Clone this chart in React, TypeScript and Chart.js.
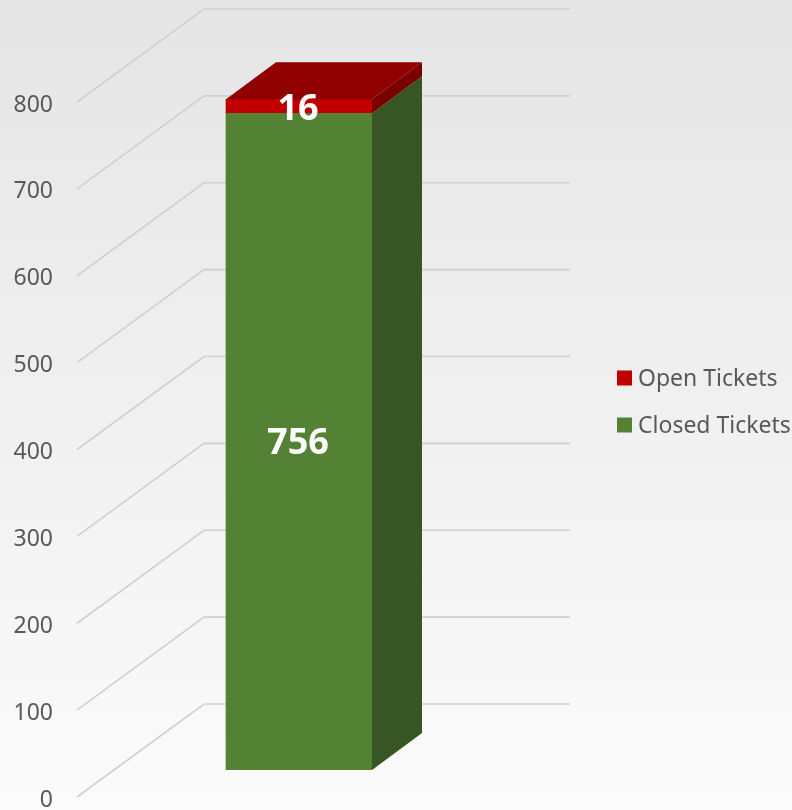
import React, { useEffect, useRef } from "react";
import { Chart, registerables } from "chart.js";

Chart.register(...registerables);

const categories = ["Tickets"];
const closedTickets = [756];
const openTickets = [16];
const seriesLabels = ["Closed Tickets", "Open Tickets"];
const frontColors = ["#548235", "#c00000"];
const sideColors = ["#375623", "#7a0000"];
const topColor = "#900000";
const yMin = 0;
const yMax = 800;
const yStep = 100;

const DX = 50;
const DY = -37;
const WALL_X0 = 204;
const WALL_X1 = 570;
const WALL_DY = -66;
const FRONT_X = 77;
const FRONT_DY = 27;
const FONT = "'Noto Sans', sans-serif";
const TEXT_COLOR = "#595959";
const GRID_COLOR = "#d0d0d0";

const threeD = {
  id: "threeD",
  beforeDraw(chart: any) {
    const { ctx, width, height } = chart;
    const g = ctx.createLinearGradient(0, 0, 0, height);
    g.addColorStop(0, "#e5e5e5");
    g.addColorStop(1, "#fbfbfb");
    ctx.save();
    ctx.fillStyle = g;
    ctx.fillRect(0, 0, width, height);
    ctx.restore();
  },
  beforeDatasetsDraw(chart: any) {
    const { ctx } = chart;
    const y = chart.scales.y;
    ctx.save();
    ctx.strokeStyle = GRID_COLOR;
    ctx.lineWidth = 1.6;
    ctx.font = `23px ${FONT}`;
    ctx.fillStyle = TEXT_COLOR;
    ctx.textAlign = "right";
    ctx.textBaseline = "middle";
    y.ticks.forEach((t: any) => {
      const py = y.getPixelForValue(t.value);
      ctx.beginPath();
      ctx.moveTo(FRONT_X, py + FRONT_DY);
      ctx.lineTo(WALL_X0, py + WALL_DY);
      ctx.lineTo(WALL_X1, py + WALL_DY);
      ctx.stroke();
      ctx.fillText(String(t.value), 53, py + FRONT_DY + 3);
    });
    ctx.restore();
  },
  afterDatasetsDraw(chart: any) {
    const { ctx } = chart;
    const n = chart.data.datasets.length;
    ctx.save();
    for (let i = 0; i < n; i++) {
      const meta = chart.getDatasetMeta(i);
      meta.data.forEach((el: any) => {
        const { x, y, base, width } = el.getProps(["x", "y", "base", "width"], true);
        const left = x - width / 2;
        const right = x + width / 2;
        ctx.fillStyle = sideColors[i];
        ctx.beginPath();
        ctx.moveTo(right, base);
        ctx.lineTo(right, y);
        ctx.lineTo(right + DX, y + DY);
        ctx.lineTo(right + DX, base + DY);
        ctx.closePath();
        ctx.fill();
        if (i === n - 1) {
          ctx.fillStyle = topColor;
          ctx.beginPath();
          ctx.moveTo(left, y);
          ctx.lineTo(left + DX, y + DY);
          ctx.lineTo(right + DX, y + DY);
          ctx.lineTo(right, y);
          ctx.closePath();
          ctx.fill();
        }
      });
    }
    ctx.fillStyle = "#ffffff";
    ctx.font = `bold 36px ${FONT}`;
    ctx.textAlign = "center";
    ctx.textBaseline = "middle";
    for (let i = 0; i < n; i++) {
      const meta = chart.getDatasetMeta(i);
      meta.data.forEach((el: any, j: number) => {
        const { x, y, base } = el.getProps(["x", "y", "base"], true);
        const v = chart.data.datasets[i].data[j];
        const cy = Math.max((y + base) / 2, y + 8);
        ctx.fillText(String(v), x - 1, cy + 2);
      });
    }
    // legend (top series first)
    ctx.font = `23px ${FONT}`;
    ctx.textAlign = "left";
    const rows = [n - 1, 0];
    rows.forEach((di, k) => {
      const cy = 378 + k * 47;
      ctx.fillStyle = frontColors[di];
      ctx.fillRect(617, cy - 7.5, 15, 15);
      ctx.fillStyle = TEXT_COLOR;
      ctx.fillText(chart.data.datasets[di].label, 638, cy + 1);
    });
    ctx.restore();
  },
};

export default function App() {
  const ref = useRef<HTMLCanvasElement | null>(null);
  useEffect(() => {
    document.body.style.margin = "0";
    if (!ref.current) return;
    const chart = new Chart(ref.current, {
      type: "bar",
      data: {
        labels: categories,
        datasets: [
          { label: seriesLabels[0], data: closedTickets, backgroundColor: frontColors[0], barThickness: 146 },
          { label: seriesLabels[1], data: openTickets, backgroundColor: frontColors[1], barThickness: 146 },
        ],
      },
      options: {
        responsive: false,
        animation: false,
        devicePixelRatio: 1,
        layout: { padding: { top: 75, bottom: 40, left: 152, right: 346 } },
        plugins: { legend: { display: false }, tooltip: { enabled: false } },
        scales: {
          x: { stacked: true, display: false },
          y: { stacked: true, display: false, min: yMin, max: yMax, ticks: { stepSize: yStep } },
        },
      },
      plugins: [threeD],
    });
    return () => chart.destroy();
  }, []);
  return <canvas ref={ref} width={792} height={810} style={{ display: "block" }} />;
}
